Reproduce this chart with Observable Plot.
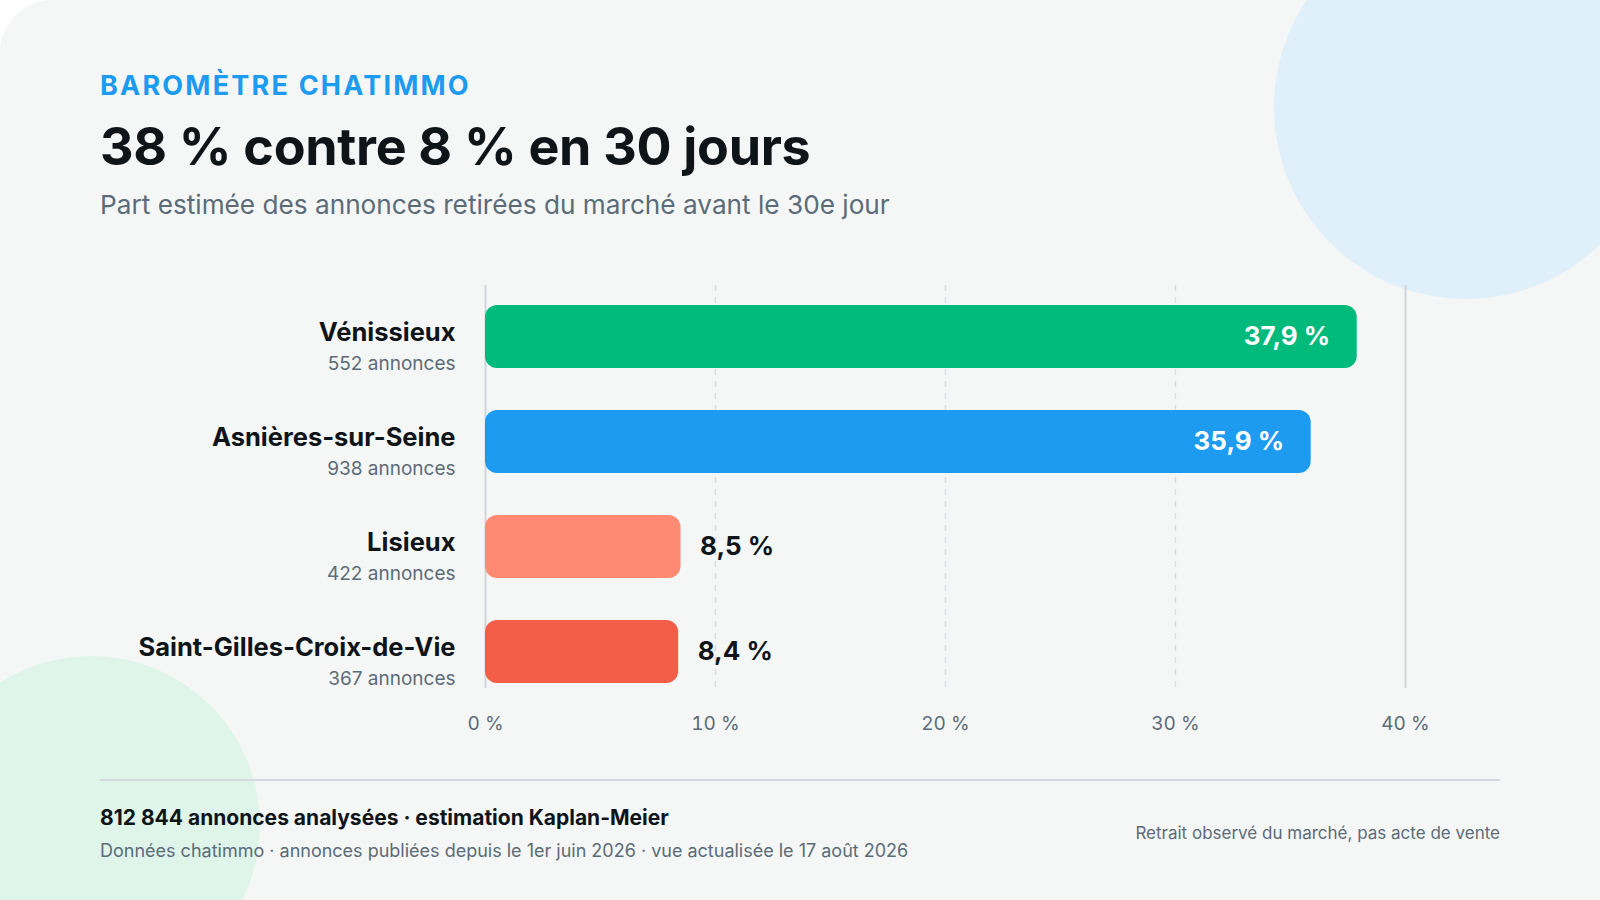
<!DOCTYPE html>
<html><head><meta charset="utf-8">
<script src="https://cdn.jsdelivr.net/npm/d3@7"></script>
<script src="https://cdn.jsdelivr.net/npm/@observablehq/plot@0.6"></script>
<style>
html,body{margin:0;padding:0;background:#fff;font-family:Inter,"Liberation Sans",Arial,sans-serif;}
#card{position:relative;width:1600px;height:900px;background:#f5f7f6;border-radius:52px 0 0 0;overflow:hidden;}
.circ{position:absolute;border-radius:50%;}
.t{position:absolute;left:100px;white-space:nowrap;}
#chart{position:absolute;left:0;top:270px;}
</style></head><body>
<div id="card">
<div class="circ" style="left:1274px;top:-85px;width:384px;height:384px;background:#e0f0fb"></div>
<div class="circ" style="left:-78px;top:656px;width:338px;height:338px;background:#dff5ea"></div>
<div class="t" style="top:69px;font-size:27px;font-weight:bold;letter-spacing:2.2px;color:#1d9bf0">BAROMÈTRE CHATIMMO</div>
<div class="t" style="top:115px;font-size:52px;font-weight:bold;letter-spacing:-0.3px;color:#0f1419">38 % contre 8 % en 30 jours</div>
<div class="t" style="top:189px;font-size:26.2px;color:#5b6b78">Part estimée des annonces retirées du marché avant le 30e jour</div>
<div id="chart"></div>
<div style="position:absolute;left:100px;top:779px;width:1400px;height:1.5px;background:#d3d9de"></div>
<div class="t" style="top:805px;font-size:21px;font-weight:bold;color:#0f1419">812 844 annonces analysées · estimation Kaplan-Meier</div>
<div class="t" style="top:840px;font-size:18px;color:#5b6b78">Données chatimmo · annonces publiées depuis le 1er juin 2026 · vue actualisée le 17 août 2026</div>
<div style="position:absolute;right:100px;top:823px;font-size:17px;color:#5b6b78">Retrait observé du marché, pas acte de vente</div>
</div>
<script>
const cities = ["Vénissieux","Asnières-sur-Seine","Lisieux","Saint-Gilles-Croix-de-Vie"];
const counts = [552,938,422,367];
const values = [37.9,35.9,8.5,8.4];
const colors = ["#00ba7c","#1d9bf0","#ff8a73","#f45d48"];
const ticks = [0,10,20,30,40];
const data = cities.map((c,i)=>({city:c,count:counts[i],value:values[i],color:colors[i],label:String(values[i]).replace(".",",")+" %"}));
const big = data.filter(d=>d.value>20), small = data.filter(d=>d.value<=20);
const plot = Plot.plot({
  width:1600,height:480,marginLeft:485,marginRight:195,marginTop:35,marginBottom:67,
  style:{fontFamily:"Inter, Liberation Sans, Arial, sans-serif",background:"transparent",overflow:"visible"},
  x:{domain:[0,40],label:null},
  y:{domain:cities,paddingInner:0.4,paddingOuter:0,axis:null},
  marks:[
    Plot.ruleX([10,20,30],{stroke:"#d9dee2",strokeWidth:1.5,strokeDasharray:"6,6",insetTop:-20,insetBottom:-5}),
    Plot.ruleX([0,40],{stroke:"#cfd5da",strokeWidth:2,insetTop:-20,insetBottom:-5}),
    Plot.axisX({ticks:ticks,tickFormat:d=>d+" %",tickSize:0,tickPadding:33,fontSize:19,color:"#5b6b78",label:null}),
    Plot.barX(data,{x:"value",y:"city",fill:"color",rx:12}),
    Plot.text(big,{x:"value",y:"city",text:"label",textAnchor:"end",dx:-27,fill:"white",fontSize:26,fontWeight:"bold"}),
    Plot.text(small,{x:"value",y:"city",text:"label",textAnchor:"start",dx:19,fill:"#0f1419",fontSize:26,fontWeight:"bold"}),
    Plot.text(data,{x:0,y:"city",text:"city",textAnchor:"end",dx:-30,dy:-4,fill:"#0f1419",fontSize:25.5,fontWeight:"bold"}),
    Plot.text(data,{x:0,y:"city",text:d=>d.count+" annonces",textAnchor:"end",dx:-30,dy:27,fill:"#5b6b78",fontSize:19})
  ]
});
document.getElementById("chart").appendChild(plot);
</script>
</body></html>
